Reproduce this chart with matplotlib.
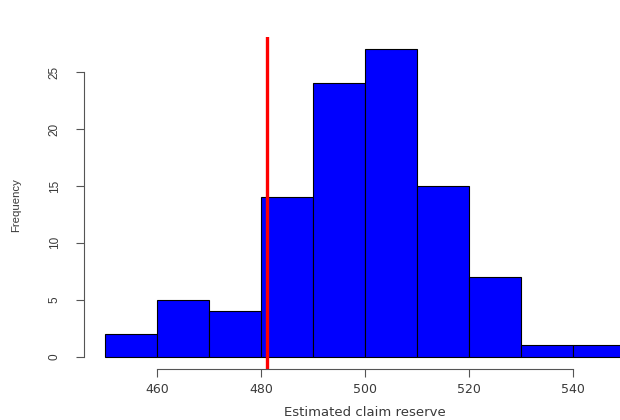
import matplotlib
matplotlib.use("Agg")
import matplotlib.pyplot as plt

# Histogram of simulated claim reserves
bin_edges = [450, 460, 470, 480, 490, 500, 510, 520, 530, 540, 550]
counts = [2, 5, 4, 14, 24, 27, 15, 7, 1, 1]
reference_value = 481.2
x_ticks = [460, 480, 500, 520, 540]
y_ticks = [0, 5, 10, 15, 20, 25]

plt.rcParams["font.family"] = ["Liberation Sans", "DejaVu Sans"]
text_color = "#3a3a3a"
wide_font = ["DejaVu Sans"]

fig = plt.figure(figsize=(6.2, 4.2), dpi=100)
ax = fig.add_axes([0.1355, 0.1214, 0.906, 0.7905])

widths = [b - a for a, b in zip(bin_edges[:-1], bin_edges[1:])]
ax.bar(bin_edges[:-1], counts, width=widths, align="edge",
       color="#0000FF", edgecolor="black", linewidth=0.8)
ax.axvline(reference_value, color="#FF0000", linewidth=2.4)

span = bin_edges[-1] - bin_edges[0]
ax.set_xlim(bin_edges[0] - 0.04 * span, bin_edges[-1] + 0.04 * span)
ymax = max(counts)
ax.set_ylim(-0.04 * ymax, ymax * 1.04)

for side in ("top", "right"):
    ax.spines[side].set_visible(False)
for side in ("left", "bottom"):
    ax.spines[side].set_color("#555555")
    ax.spines[side].set_linewidth(0.8)
ax.spines["bottom"].set_bounds(x_ticks[0], x_ticks[-1])
ax.spines["left"].set_bounds(y_ticks[0], y_ticks[-1])

ax.set_xticks(x_ticks)
ax.set_xticklabels([str(v) for v in x_ticks], family=wide_font, fontsize=9)
ax.set_yticks(y_ticks)
ax.set_yticklabels([str(v) for v in y_ticks], rotation=90, va="center",
                   fontsize=8.5)
ax.tick_params(axis="both", colors="#555555", labelcolor=text_color,
               length=5.8, width=0.8)
ax.tick_params(axis="y", pad=11)
ax.tick_params(axis="x", pad=4)

ax.set_xlabel("Estimated claim reserve", family=wide_font, fontsize=9.5,
              color=text_color)
ax.set_ylabel("Frequency", fontsize=8.2, color=text_color)
ax.xaxis.set_label_coords(0.5, -0.111)
ax.yaxis.set_label_coords(-0.112, 0.494)

fig.savefig("out.png", dpi=100)
